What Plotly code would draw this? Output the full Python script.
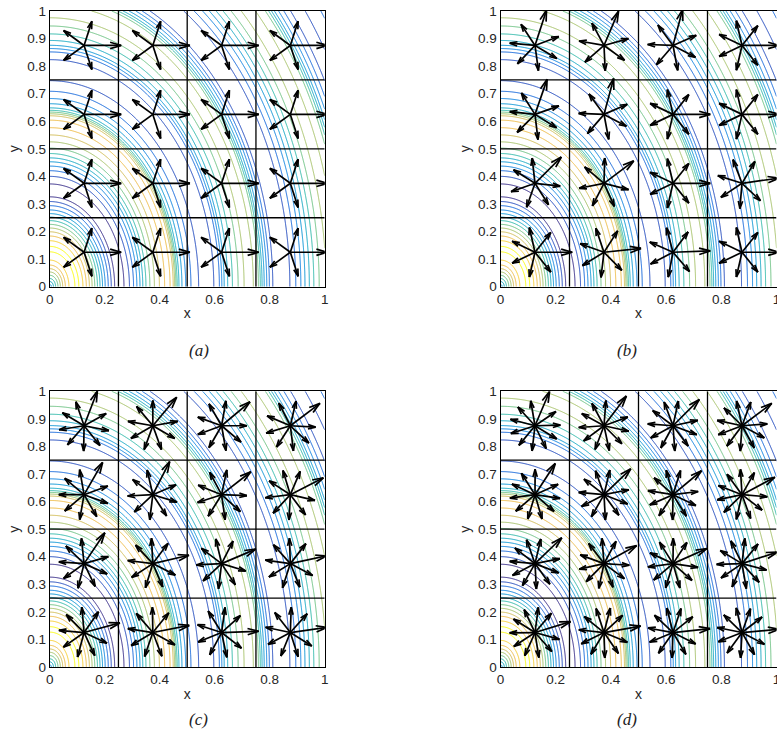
import numpy as np
import plotly.graph_objects as go

# ---------------- data ----------------
# background field: value along the elliptical radius rho = sqrt(x^2 + (y/Y_STRETCH)^2),
# read from where the coloured contour lines cross the x axis
PROFILE_R = [0.00, 0.03, 0.07, 0.10, 0.13, 0.17, 0.21, 0.25, 0.29, 0.32, 0.35, 0.39,
             0.43, 0.445, 0.47, 0.52, 0.57, 0.61, 0.64, 0.68, 0.72, 0.75, 0.78, 0.82,
             0.86, 0.90, 0.94, 0.98, 1.02, 1.06, 1.10, 1.15, 1.20, 1.32]
PROFILE_V = [0.30, 0.60, 0.92, 1.01, 0.86, 0.55, 0.22, 0.00, 0.12, 0.30, 0.52, 0.72,
             0.86, 0.80, 0.44, 0.18, 0.08, 0.16, 0.40, 0.58, 0.70, 0.66, 0.36, 0.10,
             0.10, 0.22, 0.42, 0.60, 0.70, 0.64, 0.30, 0.10, 0.15, 0.55]
Y_STRETCH = 1.38
LEVEL_START, LEVEL_END, LEVEL_STEP = 0.04, 1.0, 0.08

# arrows: number of directions per panel and angle (deg) of the long arrow in each cell
# rows listed from top (y=0.875) to bottom (y=0.125), columns left to right
PANELS = ["a", "b", "c", "d"]
N_DIRS = {"a": 5, "b": 7, "c": 9, "d": 11}
LONG_ANGLE = {
    "a": [[0, 0, 0, 0], [0, 0, 0, 0], [0, 0, 0, 0], [0, 0, 0, 0]],
    "b": [[72, 67, 75, 0], [71, 75, 0, 0], [45, 37, 0, 8], [0, 6, 2, 0]],
    "c": [[69, 50, 40, 37], [60, 63, 38, 27], [56, 13, 23, 12], [15, 11, 2, 8]],
    "d": [[67, 53, 45, 37], [57, 44, 40, 28], [44, 29, 24, 18], [17, 10, 6, 5]],
}
CELL_CENTERS = [0.125, 0.375, 0.625, 0.875]
LEN_SHORT = 0.092
LEN_LONG = 0.135
GRID_EDGES = [0.25, 0.5, 0.75]

X_TICKS = [0, 0.2, 0.4, 0.6, 0.8, 1]
X_TICKTEXT = ["0", "0.2", "0.4", "0.6", "0.8", "1"]
Y_TICKS = [0, 0.1, 0.2, 0.3, 0.4, 0.5, 0.6, 0.7, 0.8, 0.9, 1]
Y_TICKTEXT = ["0", "0.1", "0.2", "0.3", "0.4", "0.5", "0.6", "0.7", "0.8", "0.9", "1"]
CAPTIONS = ["(a)", "(b)", "(c)", "(d)"]

PARULA = [
    [0.000, "#352a87"], [0.125, "#1559d8"], [0.250, "#0c81df"], [0.375, "#069ecf"],
    [0.500, "#2fb8a9"], [0.600, "#78c37a"], [0.700, "#bcbe5e"], [0.800, "#e6b94e"],
    [0.880, "#f8be3c"], [0.940, "#f6d62a"], [1.000, "#f9fb0e"],
]

# ---------------- layout geometry (pixels in the 777x742 picture) ----------------
W, H = 777, 742
XDOM = {"a": (49.7, 324.7), "b": (500.5, 776.5), "c": (49.7, 324.7), "d": (500.5, 776.5)}
YDOM = {"a": (11, 286.7), "b": (11, 286.7), "c": (391.3, 667), "d": (391.3, 667)}


def pchip(xk, yk, x):
    xk = np.asarray(xk, float)
    yk = np.asarray(yk, float)
    h = np.diff(xk)
    d = np.diff(yk) / h
    m = np.zeros_like(yk)
    m[0], m[-1] = d[0], d[-1]
    for k in range(1, len(xk) - 1):
        if d[k - 1] * d[k] > 0:
            w1 = 2 * h[k] + h[k - 1]
            w2 = h[k] + 2 * h[k - 1]
            m[k] = (w1 + w2) / (w1 / d[k - 1] + w2 / d[k])
    x = np.clip(x, xk[0], xk[-1])
    i = np.clip(np.searchsorted(xk, x, side="right") - 1, 0, len(xk) - 2)
    t = (x - xk[i]) / h[i]
    h00 = 2 * t ** 3 - 3 * t ** 2 + 1
    h10 = t ** 3 - 2 * t ** 2 + t
    h01 = -2 * t ** 3 + 3 * t ** 2
    h11 = t ** 3 - t ** 2
    return h00 * yk[i] + h10 * h[i] * m[i] + h01 * yk[i + 1] + h11 * h[i] * m[i + 1]


fig = go.Figure()

gx = np.linspace(0, 1, 401)
gy = np.linspace(0, 1, 401)
XX, YY = np.meshgrid(gx, gy)
Z = pchip(PROFILE_R, PROFILE_V, np.sqrt(XX ** 2 + (YY / Y_STRETCH) ** 2))

tick_font = dict(family="Liberation Sans, Arial, sans-serif", size=13.5, color="#262626")

for i, p in enumerate(PANELS):
    sfx = "" if i == 0 else str(i + 1)
    xa, ya = "x" + sfx, "y" + sfx
    fig.add_trace(go.Contour(
        x=gx, y=gy, z=Z, xaxis=xa, yaxis=ya, autocontour=False,
        contours=dict(coloring="lines", start=LEVEL_START, end=LEVEL_END, size=LEVEL_STEP),
        colorscale=PARULA, zmin=0, zmax=1, zauto=False, showscale=False,
        line=dict(width=1), hoverinfo="skip",
    ))
    ax, ay = [], []
    n = N_DIRS[p]
    for r, row in enumerate(LONG_ANGLE[p]):
        cy = CELL_CENTERS[3 - r]
        for c, a0 in enumerate(row):
            cx = CELL_CENTERS[c]
            for k in range(n):
                ang = np.deg2rad(a0 + k * 360.0 / n)
                L = LEN_LONG if k == 0 else LEN_SHORT
                tx, ty = cx + L * np.cos(ang), cy + L * np.sin(ang)
                ax += [cx, tx, None]
                ay += [cy, ty, None]
                hl = 0.31 * L
                for s in (1, -1):
                    b = ang + np.pi + s * np.deg2rad(16)
                    ax += [tx, tx + hl * np.cos(b), None]
                    ay += [ty, ty + hl * np.sin(b), None]
    fig.add_trace(go.Scatter(x=ax, y=ay, mode="lines", xaxis=xa, yaxis=ya,
                             line=dict(color="black", width=1.7), hoverinfo="skip",
                             showlegend=False))
    x0, x1 = XDOM[p]
    y0, y1 = YDOM[p]
    common = dict(range=[0, 1], showgrid=False, zeroline=False, showline=True,
                  linecolor="black", linewidth=1, mirror=True, ticks="",
                  tickfont=tick_font, automargin=False, ticklabeloverflow="allow")
    fig.layout["xaxis" + sfx] = dict(common, domain=[x0 / W, x1 / W], anchor=ya,
                                     tickvals=X_TICKS, ticktext=X_TICKTEXT,
                                     title=dict(text="x", font=dict(tick_font, size=14), standoff=2))
    fig.layout["yaxis" + sfx] = dict(common, domain=[1 - y1 / H, 1 - y0 / H], anchor=xa,
                                     tickvals=Y_TICKS, ticktext=Y_TICKTEXT,
                                     title=dict(text="y", font=dict(tick_font, size=14), standoff=4))
    for g in GRID_EDGES:
        fig.add_shape(type="line", xref=xa, yref=ya, x0=g, x1=g, y0=0, y1=1,
                      line=dict(color="black", width=1.3), layer="above")
        fig.add_shape(type="line", xref=xa, yref=ya, x0=0, x1=1, y0=g, y1=g,
                      line=dict(color="black", width=1.3), layer="above")
    cap_y = y1 + 64
    fig.add_annotation(xref="paper", yref="paper", x=(x0 + x1) / 2 / W, y=1 - cap_y / H,
                       text="<i>" + CAPTIONS[i] + "</i>", showarrow=False,
                       font=dict(family="Liberation Serif, Times New Roman, serif", size=17,
                                 color="#222222"))

fig.update_layout(width=W, height=H, margin=dict(l=0, r=0, t=0, b=0),
                  paper_bgcolor="white", plot_bgcolor="white", showlegend=False)
fig.write_html("out.html", config={"displayModeBar": False},
               post_script="document.body.style.margin='0';document.body.style.overflow='hidden';")
